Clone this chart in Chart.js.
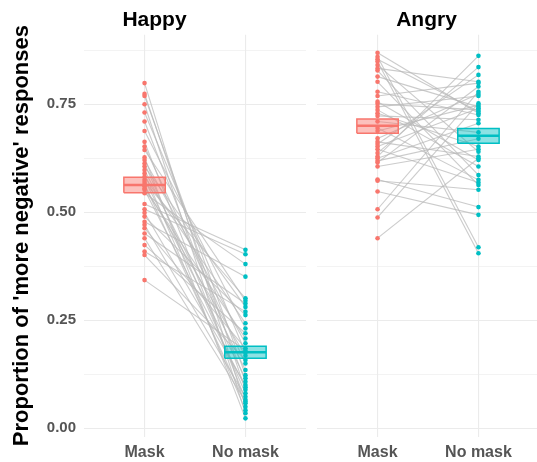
<!DOCTYPE html>
<html>
<head>
<meta charset="utf-8">
<script src="https://cdn.jsdelivr.net/npm/chart.js@4.4.1/dist/chart.umd.min.js"></script>
<style>
  html, body { margin: 0; padding: 0; background: #fff; overflow: hidden; }
  #wrap { position: relative; width: 537px; height: 462px; overflow: hidden; }
  #happyBox { position: absolute; left: 0; top: 0; width: 310px; height: 462px; }
  #angryBox { position: absolute; left: 310px; top: 0; width: 233px; height: 462px; }
</style>
</head>
<body>
<div id="wrap">
  <div id="happyBox"><canvas id="happyChart"></canvas></div>
  <div id="angryBox"><canvas id="angryChart"></canvas></div>
</div>
<script>
// categories on the x axis of each panel
const conditions = ['Mask', 'No mask'];
const panelTitles = ['Happy', 'Angry'];
const yTicks = [0, 0.125, 0.25, 0.375, 0.5, 0.625, 0.75, 0.875];

// one value per participant, same index = same person
const happyMask = [0.799, 0.774, 0.769, 0.750, 0.731, 0.710, 0.688, 0.663, 0.652, 0.644,
  0.627, 0.621, 0.613, 0.606, 0.598, 0.590, 0.582, 0.575, 0.570, 0.565,
  0.560, 0.555, 0.552, 0.544, 0.519, 0.507, 0.499, 0.490, 0.478, 0.471,
  0.463, 0.451, 0.440, 0.424, 0.409, 0.401, 0.343];
const happyNoMask = [0.050, 0.089, 0.123, 0.035, 0.175, 0.108, 0.231, 0.066, 0.150, 0.295,
  0.023, 0.197, 0.081, 0.281, 0.135, 0.042, 0.243, 0.116, 0.301, 0.058,
  0.168, 0.208, 0.095, 0.380, 0.413, 0.403, 0.100, 0.262, 0.351, 0.073,
  0.185, 0.289, 0.062, 0.220, 0.270, 0.158, 0.180];

const angryMask = [0.869, 0.860, 0.854, 0.849, 0.841, 0.833, 0.828, 0.814, 0.802, 0.779,
  0.769, 0.756, 0.751, 0.744, 0.737, 0.729, 0.723, 0.710, 0.695, 0.688,
  0.671, 0.663, 0.658, 0.652, 0.646, 0.637, 0.629, 0.625, 0.619, 0.615,
  0.606, 0.576, 0.573, 0.548, 0.507, 0.488, 0.440];
const angryNoMask = [0.729, 0.419, 0.733, 0.405, 0.640, 0.802, 0.586, 0.744, 0.563, 0.725,
  0.799, 0.621, 0.737, 0.769, 0.606, 0.652, 0.714, 0.685, 0.575, 0.748,
  0.774, 0.629, 0.818, 0.741, 0.569, 0.836, 0.862, 0.706, 0.670, 0.791,
  0.646, 0.512, 0.552, 0.494, 0.779, 0.752, 0.625];

// mean crossbars [Mask, No mask]
const happyMean = [0.563, 0.176];
const happyLow = [0.545, 0.162];
const happyHigh = [0.581, 0.190];
const angryMean = [0.700, 0.677];
const angryLow = [0.683, 0.660];
const angryHigh = [0.716, 0.694];

const colors = ['#F8766D', '#00BFC4'];
const fills = ['rgba(248,118,109,0.45)', 'rgba(0,191,196,0.45)'];
const greyText = '#555555';
const gridColor = '#EBEBEB';
const fontFamily = "'Liberation Sans', Arial, sans-serif";
const halfBox = 0.205;

function makePanel(canvasId, title, maskVals, noMaskVals, means, lows, highs, firstPanel) {
    const datasets = [];

    // crossbars on top
    [0, 1].forEach(i => {
        datasets.push({
            data: [
                { x: i - halfBox, y: lows[i] },
                { x: i + halfBox, y: lows[i] },
                { x: i + halfBox, y: highs[i] },
                { x: i - halfBox, y: highs[i] },
                { x: i - halfBox, y: lows[i] }
            ],
            showLine: true,
            fill: 'shape',
            backgroundColor: fills[i],
            borderColor: colors[i],
            borderWidth: 1.5,
            pointRadius: 0,
            tension: 0
        });
        datasets.push({
            data: [{ x: i - halfBox, y: means[i] }, { x: i + halfBox, y: means[i] }],
            showLine: true,
            borderColor: colors[i],
            borderWidth: 2.5,
            pointRadius: 0
        });
    });

    // participant points
    datasets.push({
        data: maskVals.map(v => ({ x: 0, y: v })),
        backgroundColor: colors[0],
        borderWidth: 0,
        pointRadius: 2.3
    });
    datasets.push({
        data: noMaskVals.map(v => ({ x: 1, y: v })),
        backgroundColor: colors[1],
        borderWidth: 0,
        pointRadius: 2.3
    });

    // paired lines underneath
    maskVals.forEach((m, i) => {
        datasets.push({
            data: [{ x: 0, y: m }, { x: 1, y: noMaskVals[i] }],
            showLine: true,
            borderColor: 'rgba(185,185,185,0.75)',
            borderWidth: 1.1,
            pointRadius: 0
        });
    });

    return new Chart(document.getElementById(canvasId), {
        type: 'scatter',
        data: { datasets: datasets },
        options: {
            responsive: true,
            maintainAspectRatio: false,
            animation: false,
            events: [],
            layout: { padding: { left: 0, right: firstPanel ? 1 : 0, top: 0, bottom: 0 } },
            plugins: {
                legend: { display: false },
                tooltip: { enabled: false },
                title: {
                    display: true,
                    text: title,
                    color: '#000',
                    font: { family: fontFamily, size: 21, weight: 'bold' },
                    padding: { top: 8, bottom: 1.5 }
                }
            },
            scales: {
                x: {
                    type: 'linear',
                    min: -0.6,
                    max: 1.6,
                    afterBuildTicks: s => { s.ticks = [{ value: 0 }, { value: 1 }]; },
                    afterFit: s => { s.height = 25.5; },
                    border: { display: false },
                    grid: { color: gridColor, lineWidth: 1.1, drawTicks: false },
                    ticks: {
                        padding: 6,
                        color: greyText,
                        font: { family: fontFamily, size: 16, weight: 'bold' },
                        callback: v => conditions[v]
                    }
                },
                y: {
                    min: -0.019,
                    max: 0.911,
                    afterBuildTicks: s => { s.ticks = yTicks.map(v => ({ value: v })); },
                    afterFit: s => { s.width = firstPanel ? 84 : 7; },
                    border: { display: false },
                    grid: {
                        color: gridColor,
                        drawTicks: false,
                        lineWidth: ctx => (ctx.tick && Math.round(ctx.tick.value * 1000) % 250 === 0) ? 1.1 : 0.6
                    },
                    title: {
                        display: firstPanel,
                        text: "Proportion of 'more negative' responses",
                        color: '#000',
                        font: { family: fontFamily, size: 22, weight: 'bold' },
                        padding: { top: 9, bottom: 0 }
                    },
                    ticks: {
                        display: firstPanel,
                        padding: 8,
                        color: greyText,
                        font: { family: fontFamily, size: 15, weight: 'bold' },
                        callback: v => (Math.round(v * 1000) % 250 === 0) ? v.toFixed(2) : ''
                    }
                }
            }
        }
    });
}

makePanel('happyChart', panelTitles[0], happyMask, happyNoMask, happyMean, happyLow, happyHigh, true);
makePanel('angryChart', panelTitles[1], angryMask, angryNoMask, angryMean, angryLow, angryHigh, false);
</script>
</body>
</html>
